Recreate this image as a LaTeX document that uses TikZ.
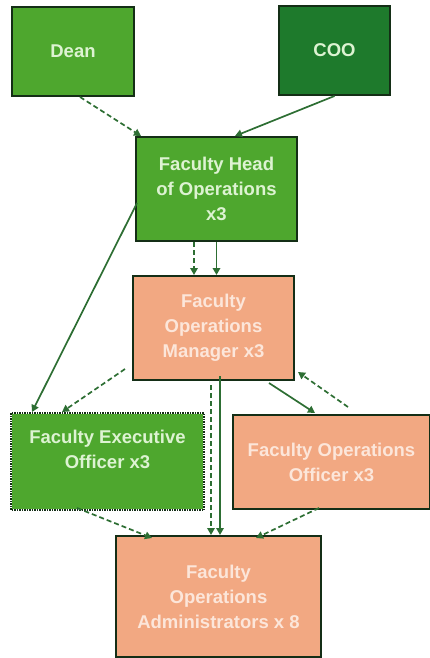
\documentclass[tikz,border=0pt]{standalone}
\usepackage{fontspec}
\setmainfont{Liberation Sans}
\usetikzlibrary{calc,arrows.meta}
\definecolor{grn}{HTML}{4EA72E}
\definecolor{dgrn}{HTML}{1E7A2C}
\definecolor{salm}{HTML}{F2A882}
\definecolor{gtxt}{HTML}{DDF3D2}
\definecolor{stxt}{HTML}{FCE6DA}
\definecolor{bord}{HTML}{142E16}
\definecolor{arr}{HTML}{2D6E33}
\tikzset{
  box/.style={draw=bord, line width=2pt, inner sep=0pt, align=center,
    font=\bfseries\fontsize{18.5}{25}\selectfont},
  gbox/.style={box, fill=grn, text=gtxt},
  dbox/.style={box, fill=dgrn, text=gtxt},
  sbox/.style={box, fill=salm, text=stxt},
  conn/.style={draw=arr, line width=1.7pt, -{Triangle[length=7pt,width=7.5pt]}},
  dconn/.style={conn, dash pattern=on 5pt off 3pt},
}
\begin{document}
\begin{tikzpicture}[x=1pt,y=-1pt]
\useasboundingbox (0,0) rectangle (429,658);
\node[gbox, minimum width=122pt, minimum height=89pt] (dean) at (73,51.5) {Dean};
\node[dbox, minimum width=111pt, minimum height=89pt] (coo) at (334.5,50.5) {COO};
\node[gbox, minimum width=161pt, minimum height=104pt] (fho) at (216.5,189) {Faculty Head\\of Operations\\x3};
\node[sbox, minimum width=161pt, minimum height=104pt] (fom) at (213.5,328) {Faculty\\Operations\\Manager x3};
\node[gbox, draw=none, minimum width=191pt, minimum height=95pt] (feo) at (107.5,461.5) {};
\draw[bord, line width=2pt, dash pattern=on 1.5pt off 1pt] (feo.north west) rectangle (feo.south east);
\node[gbox, draw=none, fill=none] (feot) at ($(feo.center)+(0,-12)$) {Faculty Executive\\Officer x3};
\node[sbox, minimum width=197pt, minimum height=94pt] (foo) at (331.5,462) {Faculty Operations\\Officer x3};
\node[sbox, minimum width=205pt, minimum height=121pt] (foa) at (218.5,596.5) {Faculty\\Operations\\Administrators x 8};
% connectors
\draw[dconn] ($(dean.south)+(7,0)$) -- ($(fho.north west)+(6,0)$);
\draw[conn] (coo.south) -- ($(fho.north)+(18.5,0)$);
\draw[dconn] ($(fho.south)+(-22.5,0)$) -- ($(fom.north)+(-19.5,0)$);
\draw[conn] (fho.south) -- ($(fom.north)+(3,0)$);
\draw[conn] ($(fho.west)+(2,14)$) -- ($(feo.north west)+(21,-1)$);
\draw[dconn] ($(fom.south west)+(-7,-12)$) -- ($(feo.north west)+(51,-1)$);
\draw[dconn] ($(fom.south)+(-2.5,4)$) -- ($(foa.north)+(-7.5,0)$);
\draw[conn] ($(fom.south)+(6.5,-5)$) -- ($(foa.north)+(1.5,0)$);
\draw[conn] ($(fom.south east)+(-26,2)$) -- ($(foo.north west)+(83,-1)$);
\draw[dconn] ($(foo.north west)+(116,-7)$) -- ($(fom.south east)+(3,-9)$);
\draw[dconn] ($(feo.south west)+(66,-2)$) -- ($(foa.north west)+(37,3)$);
\draw[dconn] ($(foo.south west)+(87,-2)$) -- ($(foa.north west)+(141,3)$);
\end{tikzpicture}
\end{document}
